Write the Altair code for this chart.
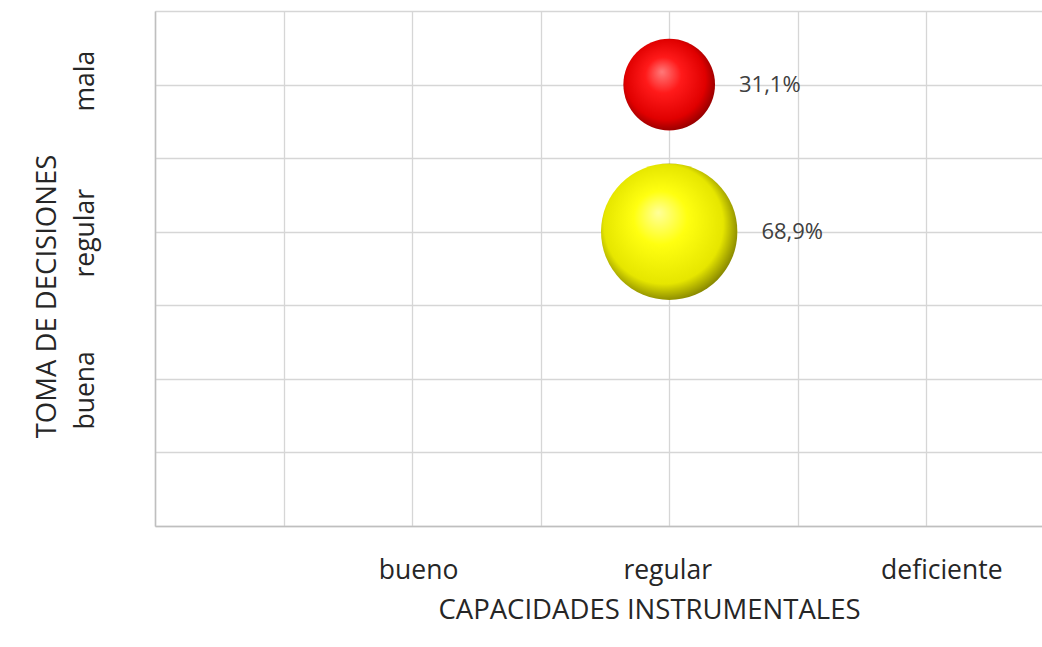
import altair as alt
import pandas as pd

# Survey categories and the share of respondents in each bubble
x_levels = ["bueno", "regular", "deficiente"]
x_positions = [2, 4, 6]
y_levels = ["buena", "regular", "mala"]
y_positions = [2, 4, 6]

bubble_x = [4, 4]
bubble_y = [6, 4]
bubble_pct = [31.1, 68.9]
bubble_labels = ["31,1%", "68,9%"]

df = pd.DataFrame({
    "x": bubble_x,
    "y": bubble_y,
    "pct": bubble_pct,
    "label": bubble_labels,
})

FONT = "Open Sans"
TEXT = "#262626"
GRID = "#d6d6d6"
SIZE_MAX = 27000  # symbol size at 100%


def label_expr(positions, names):
    parts = [f"datum.value == {p} ? '{n}'" for p, n in zip(positions, names)]
    return " : ".join(parts) + " : ''"


x_scale = alt.Scale(domain=[0, 6.9], nice=False, zero=False)
y_scale = alt.Scale(domain=[0, 7], nice=False, zero=False)
size_scale = alt.Scale(domain=[0, 100], range=[0, SIZE_MAX])

x_enc = alt.X(
    "x:Q", scale=x_scale,
    axis=alt.Axis(
        title="CAPACIDADES INSTRUMENTALES",
        values=list(range(0, 7)),
        labelExpr=label_expr(x_positions, x_levels),
        labelBaseline="alphabetic", labelPadding=52,
        labelOffset={"condition": [
            {"test": "datum.value == 2", "value": 6},
            {"test": "datum.value == 6", "value": 15},
        ], "value": -2},
        ticks=False, domainColor="#bfbfbf", domainWidth=1.5,
        gridColor=GRID, gridWidth=1.3, labelFont=FONT, labelFontSize=26.5,
        labelColor=TEXT, titleFont=FONT, titleFontSize=27.5,
        titleFontWeight="normal", titleColor=TEXT,
        titleX=494, titleY=92, titleBaseline="alphabetic",
    ),
)
y_enc = alt.Y(
    "y:Q", scale=y_scale,
    axis=alt.Axis(
        title="TOMA DE DECISIONES",
        values=list(range(0, 8)),
        labelExpr=label_expr(y_positions, y_levels),
        labelAngle=-90, labelAlign="center", labelBaseline="alphabetic",
        labelPadding=62,
        labelOffset={"condition": [
            {"test": "datum.value == 2", "value": 11},
            {"test": "datum.value == 6", "value": -4},
        ], "value": 1},
        ticks=False, domainColor="#bfbfbf", domainWidth=1.5,
        gridColor=GRID, gridWidth=1.3, labelFont=FONT, labelFontSize=26.5,
        labelColor=TEXT, titleFont=FONT, titleFontSize=27.5,
        titleFontWeight="normal", titleColor=TEXT,
        titleX=-100, titleY=285, titleAngle=-90,
        titleBaseline="alphabetic", titleAlign="center",
    ),
)

shades = [
    # red sphere
    ["#ff7a7a", "#ff1a1a", "#e00000", "#8c0000"],
    # yellow sphere
    ["#ffff9a", "#ffff10", "#e6e600", "#7a7a00"],
]

layers = []
for i in range(len(bubble_pct)):
    s = shades[i]
    grad = alt.RadialGradient(
        gradient="radial",
        x1=0.42, y1=0.36, r1=0.0,
        x2=0.47, y2=0.47, r2=0.56,
        stops=[
            alt.GradientStop(offset=0.0, color=s[0]),
            alt.GradientStop(offset=0.35, color=s[1]),
            alt.GradientStop(offset=0.78, color=s[2]),
            alt.GradientStop(offset=1.0, color=s[3]),
        ],
    )
    sub = alt.Chart(df.iloc[[i]])
    bubble = sub.mark_circle(opacity=1, color=grad).encode(
        x=x_enc, y=y_enc,
        size=alt.Size("pct:Q", scale=size_scale, legend=None),
    )
    radius = (SIZE_MAX * bubble_pct[i] / 100) ** 0.5 / 2
    text = sub.mark_text(
        align="left", baseline="middle", dx=radius + 24,
        font=FONT, fontSize=22, color="#404040",
    ).encode(x="x:Q", y="y:Q", text="label:N")
    layers += [bubble, text]

chart = alt.layer(*layers).properties(
    width=887, height=515,
    autosize=alt.AutoSizeParams(type="none"),
    padding={"left": 155, "top": 11, "right": 0, "bottom": 121},
    background="white",
).configure_view(stroke=None)

chart.save("out.html", embed_options={"renderer": "svg", "actions": False})
